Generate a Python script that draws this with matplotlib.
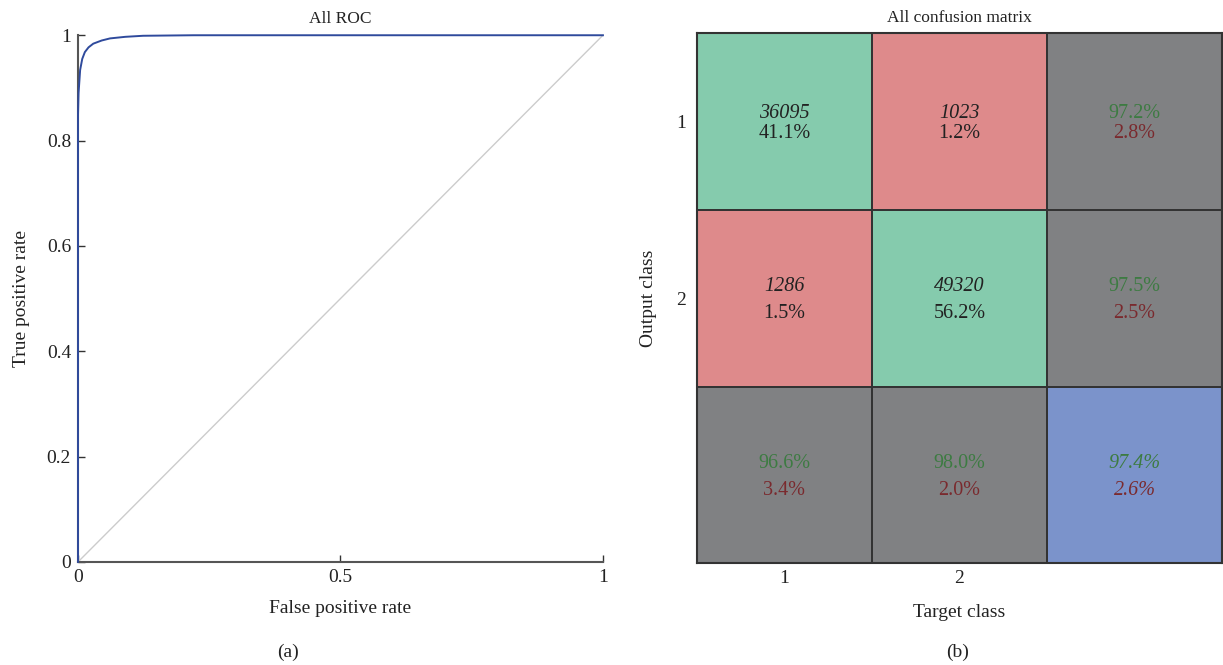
import numpy as np
import matplotlib.pyplot as plt
from matplotlib.colors import ListedColormap

plt.rcParams['font.family'] = ['Liberation Serif', 'DejaVu Serif']

# ROC curve points
fpr = [0.0, 0.0, 0.001, 0.004, 0.008, 0.013, 0.02, 0.029, 0.045, 0.061,
       0.09, 0.124, 0.22, 0.5, 1.0]
tpr = [0.0, 0.85, 0.89, 0.934, 0.955, 0.968, 0.977, 0.984, 0.99, 0.994,
       0.997, 0.999, 1.0, 1.0, 1.0]

# confusion matrix counts (rows = output class, cols = target class)
counts = [[36095, 1023],
          [1286, 49320]]
class_labels = ["1", "2"]

cm = np.array(counts)
total = cm.sum()
n = cm.shape[0]

# colour category for each cell: 0 correct, 1 wrong, 2 summary, 3 overall
cat = np.full((n + 1, n + 1), 2)
for i in range(n):
    for j in range(n):
        cat[i, j] = 0 if i == j else 1
cat[n, n] = 3
cmap = ListedColormap(["#85cbad", "#de8a8b", "#808183", "#7b93cb"])

fig = plt.figure(figsize=(12.23, 6.65), dpi=100)

# ---------- (a) ROC ----------
ax1 = fig.add_axes([0.0638, 0.155, 0.4292, 0.792])
ax1.plot([0, 1], [0, 1], color="#cccccc", lw=1)
ax1.plot(fpr, tpr, color="#2f4a9c", lw=1.4, clip_on=False, zorder=3)
ax1.set_xlim(0, 1)
ax1.set_ylim(0, 1)
ax1.set_xticks([0, 0.5, 1])
ax1.set_xticklabels(["0", "0.5", "1"])
ax1.set_yticks([0, 0.2, 0.4, 0.6, 0.8, 1])
ax1.set_yticklabels(["0", "0.2", "0.4", "0.6", "0.8", "1"])
for s in ["top", "right"]:
    ax1.spines[s].set_visible(False)
for s in ["left", "bottom"]:
    ax1.spines[s].set_color("#555555")
    ax1.spines[s].set_linewidth(1.5)
ax1.tick_params(direction="in", length=5, width=1, colors="#333333",
                labelsize=14, labelcolor="#222222", pad=5)
ax1.set_title("All ROC", fontsize=12.5, color="#222222", pad=9)
ax1.set_xlabel("False positive rate", fontsize=14, color="#222222", labelpad=10)
ax1.set_ylabel("True positive rate", fontsize=14, color="#222222", labelpad=12)
fig.text(0.2355, 0.012, "(a)", fontsize=14, color="#222222", ha="center")

# ---------- (b) confusion matrix ----------
ax2 = fig.add_axes([0.5699, 0.153, 0.4293, 0.797])
ax2.pcolormesh(np.arange(n + 2), np.arange(n + 2), cat, cmap=cmap,
               vmin=-0.5, vmax=3.5, edgecolors="#333333", linewidth=1.2)
ax2.set_xlim(0, n + 1)
ax2.set_ylim(n + 1, 0)
ax2.set_xticks(np.arange(n) + 0.5)
ax2.set_xticklabels(class_labels)
ax2.set_yticks(np.arange(n) + 0.5)
ax2.set_yticklabels(class_labels)
ax2.tick_params(axis="x", length=0, labelsize=14, labelcolor="#222222", pad=5)
ax2.tick_params(axis="y", length=0, labelsize=14, labelcolor="#222222", pad=8)
for s in ax2.spines.values():
    s.set_color("#333333")
    s.set_linewidth(1.5)
ax2.set_title("All confusion matrix", fontsize=12.5, color="#222222", pad=8)
ax2.set_xlabel("Target class", fontsize=14, color="#222222", labelpad=12)
ax2.set_ylabel("Output class", fontsize=14, color="#222222", labelpad=14)
fig.text(0.783, 0.012, "(b)", fontsize=14, color="#222222", ha="center")

good = "#3d7b42"
bad = "#7a2a2e"
dark = "#222222"
fs = 14.5
# offsets of the two text lines (cell units), first row is tighter
gaps = [0.058, 0.077, 0.074]
shift = 0.012

for i in range(n):
    g = gaps[i]
    c = i + 0.5 + shift
    for j in range(n):
        ax2.text(j + 0.5, c - g, f"{cm[i, j]}", ha="center", va="center",
                 fontsize=fs, style="italic", color=dark)
        ax2.text(j + 0.5, c + g, f"{100 * cm[i, j] / total:.1f}%",
                 ha="center", va="center", fontsize=fs, color=dark)
    p = 100 * cm[i, i] / cm[i].sum()
    ax2.text(n + 0.5, c - g, f"{p:.1f}%", ha="center", va="center",
             fontsize=fs, color=good)
    ax2.text(n + 0.5, c + g, f"{100 - p:.1f}%", ha="center",
             va="center", fontsize=fs, color=bad)

g = gaps[n]
c = n + 0.5 + shift
for j in range(n):
    r = 100 * cm[j, j] / cm[:, j].sum()
    ax2.text(j + 0.5, c - g, f"{r:.1f}%", ha="center", va="center",
             fontsize=fs, color=good)
    ax2.text(j + 0.5, c + g, f"{100 - r:.1f}%", ha="center",
             va="center", fontsize=fs, color=bad)

acc = 100 * np.trace(cm) / total
ax2.text(n + 0.5, c - g, f"{acc:.1f}%", ha="center", va="center",
         fontsize=fs, style="italic", color=good)
ax2.text(n + 0.5, c + g, f"{100 - acc:.1f}%", ha="center", va="center",
         fontsize=fs, style="italic", color=bad)

fig.savefig("out.png", dpi=100)
plt.close(fig)
